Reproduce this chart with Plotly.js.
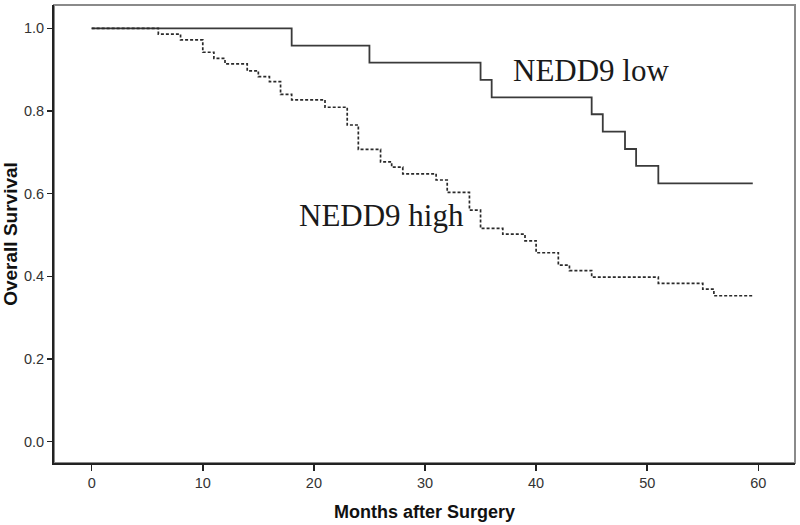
<!DOCTYPE html>
<html>
<head>
<meta charset="utf-8">
<script src="https://cdn.plot.ly/plotly-3.0.1.min.js"></script>
<style>html,body{margin:0;padding:0;background:#fff;}#chart{width:800px;height:525px;}</style>
</head>
<body>
<div id="chart"></div>
<script>
// NEDD9 low group (Kaplan-Meier steps)
const lowMonths = [0, 18, 25, 35, 36, 45, 46, 48, 49, 51, 59.5];
const lowSurvival = [1.0, 0.958, 0.917, 0.875, 0.833, 0.792, 0.750, 0.708, 0.667, 0.625, 0.625];

// NEDD9 high group (Kaplan-Meier steps)
const highMonths = [0, 6, 8, 10, 11, 12, 14, 15, 16, 17, 18, 21, 23, 24, 26, 27, 28, 31, 32, 34, 35, 37, 39, 40, 42, 43, 45, 51, 55, 56, 59.5];
const highSurvival = [1.0, 0.986, 0.972, 0.942, 0.927, 0.914, 0.897, 0.883, 0.871, 0.840, 0.827, 0.809, 0.766, 0.707, 0.677, 0.664, 0.648, 0.633, 0.603, 0.560, 0.516, 0.502, 0.486, 0.457, 0.427, 0.414, 0.398, 0.383, 0.369, 0.353, 0.353];

const xTicks = [0, 10, 20, 30, 40, 50, 60];
const yTicks = [0.0, 0.2, 0.4, 0.6, 0.8, 1.0];
const yTickText = ["0.0", "0.2", "0.4", "0.6", "0.8", "1.0"];

const traces = [
  {
    x: lowMonths, y: lowSurvival, type: 'scatter', mode: 'lines', name: 'NEDD9 low',
    line: {shape: 'hv', color: '#3a3a3a', width: 1.8}
  },
  {
    x: highMonths, y: highSurvival, type: 'scatter', mode: 'lines', name: 'NEDD9 high',
    line: {shape: 'hv', color: '#2a2a2a', width: 1.7, dash: '3px,2px'}
  }
];

const tickFont = {size: 14.5, color: '#333', family: 'Liberation Sans Narrow, Liberation Sans, Arial, sans-serif'};

const layout = {
  width: 800, height: 525,
  margin: {l: 54, r: 5, t: 5, b: 62},
  paper_bgcolor: '#ffffff', plot_bgcolor: '#ffffff',
  showlegend: false,
  font: {family: 'Liberation Sans, Arial, sans-serif', color: '#222'},
  xaxis: {
    range: [-3.39, 63.3], tickvals: xTicks, ticktext: xTicks.map(String),
    showgrid: false, zeroline: false,
    showline: true, linecolor: '#222', linewidth: 2,
    ticks: 'outside', ticklen: 6, tickwidth: 1.5, tickcolor: '#222',
    tickfont: tickFont,
    title: {text: 'Months after Surgery', standoff: 15, font: {size: 18, color: '#111', family: 'Liberation Sans, Arial, sans-serif', weight: 'bold'}},
    automargin: false
  },
  yaxis: {
    range: [-0.0515, 1.0563], tickvals: yTicks, ticktext: yTickText,
    showgrid: false, zeroline: false,
    showline: true, linecolor: '#222', linewidth: 2,
    ticks: 'outside', ticklen: 5, tickwidth: 1.5, tickcolor: '#222',
    tickfont: tickFont,
    title: {text: 'Overall Survival', standoff: 5, font: {size: 19, color: '#111', family: 'Liberation Sans, Arial, sans-serif', weight: 'bold'}},
    automargin: false
  },
  shapes: [
    {type: 'rect', xref: 'paper', yref: 'paper', x0: 0, x1: 1, y0: 0, y1: 1,
     line: {color: '#8a8a8a', width: 2}, layer: 'below'}
  ],
  annotations: [
    {x: 37.75, y: 0.898, xref: 'x', yref: 'y', xanchor: 'left', yanchor: 'middle', showarrow: false,
     text: 'NEDD9 low', font: {family: 'Liberation Serif, Times New Roman, serif', size: 31, color: '#1a1a1a'}},
    {x: 18.45, y: 0.546, xref: 'x', yref: 'y', xanchor: 'left', yanchor: 'middle', showarrow: false,
     text: 'NEDD9 high', font: {family: 'Liberation Serif, Times New Roman, serif', size: 31, color: '#1a1a1a'}}
  ]
};

Plotly.newPlot('chart', traces, layout, {displayModeBar: false, staticPlot: true});
</script>
</body>
</html>
